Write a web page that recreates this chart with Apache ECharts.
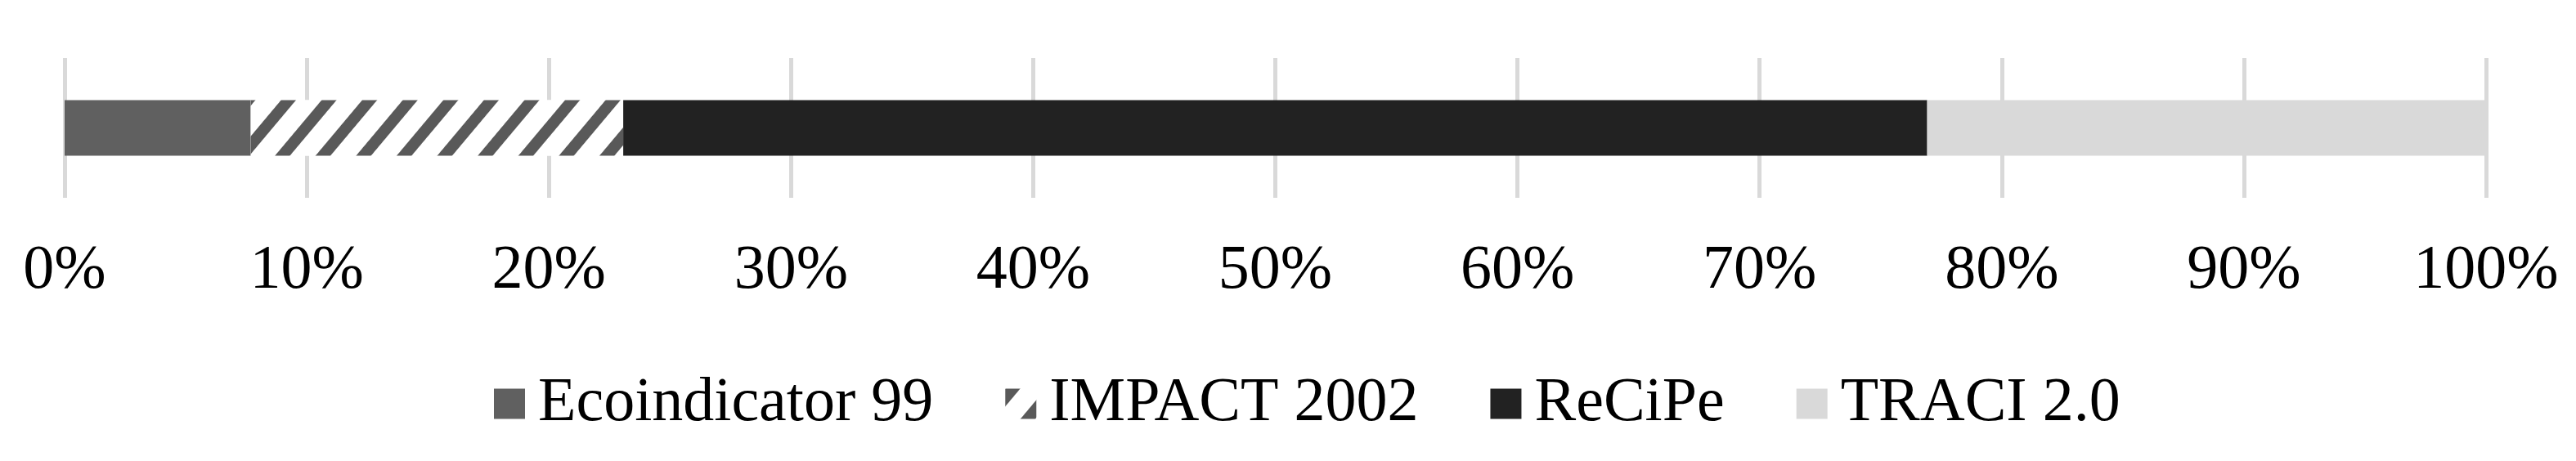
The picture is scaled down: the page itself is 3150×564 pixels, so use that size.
<!DOCTYPE html>
<html>
<head>
<meta charset="utf-8">
<script src="https://cdn.jsdelivr.net/npm/echarts@6/dist/echarts.min.js"></script>
<style>
html,body{margin:0;padding:0;background:#fff;}
#chart{width:3150px;height:564px;}
</style>
</head>
<body>
<div id="chart"></div>
<script>
const categories = [''];
const seriesNames = ['Ecoindicator 99', 'IMPACT 2002', 'ReCiPe', 'TRACI 2.0'];
const ecoindicator = [7.69];
const impact = [15.38];
const recipe = [53.85];
const traci = [23.08];
const tickMin = 0, tickMax = 100, tickStep = 10;

const FONT = "'Liberation Serif', 'Times New Roman', serif";
const values = [ecoindicator, impact, recipe, traci];
const colors = ['#606060', '#595959', '#222222', '#d9d9d9'];

const series = seriesNames.map((name, i) => {
  const s = {
    name: name,
    type: 'bar',
    stack: 'total',
    barWidth: 68,
    data: values[i],
    itemStyle: { color: colors[i] },
    emphasis: { disabled: true }
  };
  if (i === 1) {
    s.itemStyle = {
      color: '#ffffff',
      decal: {
        symbol: 'rect',
        symbolSize: 1,
        symbolKeepAspect: false,
        color: '#595959',
        backgroundColor: '#ffffff',
        dashArrayX: [1, 0],
        dashArrayY: [14, 24],
        rotation: -Math.PI * 50 / 180
      }
    };
  }
  return s;
});

const chart = echarts.init(document.getElementById('chart'), null, { renderer: 'canvas' });
chart.setOption({
  animation: false,
  backgroundColor: '#ffffff',
  grid: { left: 79, right: 110, top: 71, height: 171, containLabel: false },
  xAxis: {
    type: 'value',
    min: tickMin, max: tickMax, interval: tickStep,
    axisLine: { show: false },
    axisTick: { show: false },
    splitLine: { show: true, lineStyle: { color: '#d9d9d9', width: 5 } },
    axisLabel: {
      formatter: '{value}%',
      color: '#000000',
      fontFamily: FONT,
      fontSize: 76,
      margin: 52
    }
  },
  yAxis: {
    type: 'category',
    data: categories,
    axisLine: { show: false },
    axisTick: { show: false },
    axisLabel: { show: false },
    splitLine: { show: false }
  },
  legend: {
    data: seriesNames,
    left: 599,
    top: 451,
    icon: 'rect',
    itemWidth: 38,
    itemHeight: 37,
    itemGap: 88,
    textStyle: { color: '#000000', fontFamily: FONT, fontSize: 76, padding: [0, 0, 0, 11] },
    selectedMode: false
  },
  series: series
});
</script>
</body>
</html>
